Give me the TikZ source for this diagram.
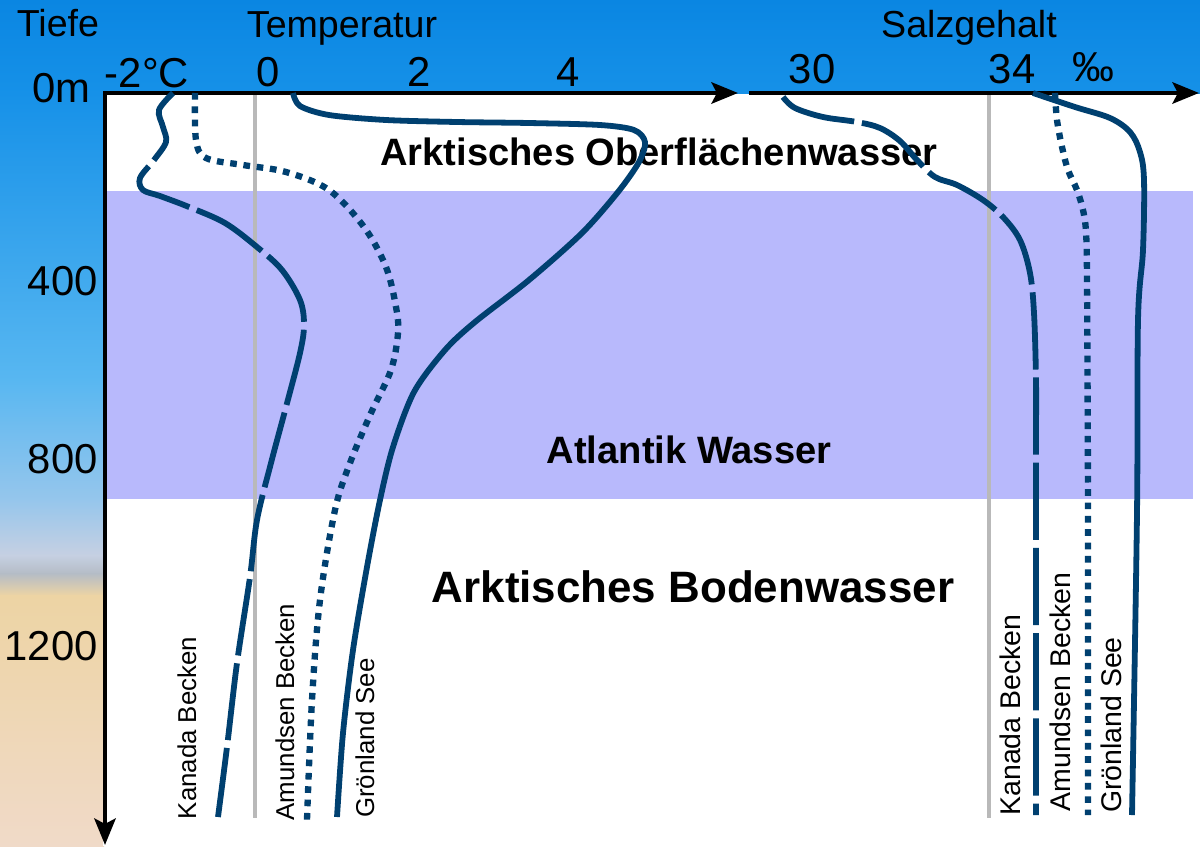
\documentclass[tikz,border=0pt]{standalone}
\usepackage{fontspec}
\setmainfont{Liberation Sans}
\usetikzlibrary{arrows.meta}
\definecolor{himmelA}{RGB}{10,134,226}
\definecolor{himmelB}{RGB}{22,145,232}
\definecolor{himmelC}{RGB}{88,183,241}
\definecolor{himmelD}{RGB}{150,198,236}
\definecolor{himmelE}{RGB}{198,208,226}
\definecolor{dunst}{RGB}{180,188,198}
\definecolor{sandA}{RGB}{237,212,164}
\definecolor{sandB}{RGB}{240,218,200}
\definecolor{atlantik}{RGB}{184,185,252}
\definecolor{profil}{RGB}{0,64,112}
\definecolor{nullgrau}{RGB}{185,185,185}
\begin{document}
\begin{tikzpicture}[x=0.02cm, y=-0.02cm,
    profile/.style={line width=3.3pt, color=profil},
    kanada/.style={profile, dash pattern=on 44pt off 4.5pt},
    amundsen/.style={profile, line width=3.6pt, dash pattern=on 3.8pt off 3.8pt},
    groenland/.style={profile},
    achse/.style={line width=2.8pt, -{Stealth[length=15pt, width=12pt, inset=3pt]}},
    nullline/.style={line width=2.3pt, color=nullgrau},
    ticklabel/.style={font=\fontsize{23.8pt}{26pt}\selectfont, anchor=base, inner sep=0pt},
    heading/.style={font=\fontsize{21.4pt}{24pt}\selectfont, anchor=base, inner sep=0pt},
    zone/.style={font=\bfseries\fontsize{21.7pt}{24pt}\selectfont, anchor=base, inner sep=0pt},
    basin/.style={font=\fontsize{14.7pt}{16pt}\selectfont, rotate=90, inner sep=0pt},
    bigbasin/.style={basin, font=\fontsize{16.2pt}{18pt}\selectfont},
    ]
    \useasboundingbox (0,0) rectangle (1200,846);
    % background: sky band and depth strip
    \shade[top color=himmelA, bottom color=himmelB] (0,0) rectangle (1200,94);
    \shade[top color=himmelB, bottom color=himmelC] (0,93) rectangle (104,381);
    \shade[top color=himmelC, bottom color=himmelD] (0,380) rectangle (104,501);
    \shade[top color=himmelD, bottom color=himmelE] (0,500) rectangle (104,556);
    \shade[top color=himmelE, bottom color=dunst] (0,555) rectangle (104,574);
    \shade[top color=dunst, bottom color=sandA] (0,573) rectangle (104,596);
    \shade[top color=sandA, bottom color=sandB] (0,595) rectangle (104,846);
    \fill[white] (103,94) rectangle (1200,846);
    \fill[atlantik] (105,191) rectangle (1193,499);
    \draw[nullline] (255,94) -- (255,818);
    \draw[nullline] (989,94) -- (989,818);

    % axes
    \draw[achse] (103,93) -- (738,93);
    \draw[achse] (749,93) -- (1199,93);
    \draw[achse] (105,91) -- (105,845);

    \node[heading] (tiefe) at (58,36) {Tiefe};
    \node[heading] (temperatur) at (342,37) {Temperatur};
    \node[heading] (salz) at (969,37) {Salzgehalt};
    \node[ticklabel, anchor=base east] (d0) at (91,102) {0m};
    \node[ticklabel, anchor=base east] (d400) at (98,295) {400};
    \node[ticklabel, anchor=base east] (d800) at (98,473) {800};
    \node[ticklabel, anchor=base east] (d1200) at (98,660) {1200};
    \node[ticklabel] (tm2) at (147,87) {-2°C};
    \node[ticklabel] (t0) at (268,86) {0};
    \node[ticklabel] (t2) at (419,86) {2};
    \node[ticklabel] (t4) at (568,86) {4};
    \node[ticklabel] (s30) at (812,83) {30};
    \node[ticklabel] (s34) at (1012,83) {34};
    \node[ticklabel] (promille) at (1093,81) {‰};

    \node[zone] (oberflaeche) at (659,165) {Arktisches Oberflächenwasser};
    \node[zone] (atlantikw) at (689,463) {Atlantik Wasser};
    \node[zone, font=\bfseries\fontsize{25pt}{28pt}\selectfont] (boden) at (693,602) {Arktisches Bodenwasser};

    % temperature profiles
    \draw[kanada] plot[smooth, tension=0.55] coordinates {(173,93) (159,110) (163,127) (166,142) (154,160) (140,178) (143,190) (160,196) (189,207) (225,223) (257,247) (282,270) (300,300) (304,325) (300,353) (286,407) (271,463) (257,520) (250,577) (237,663) (227,747) (218,817)};
    \draw[amundsen] plot[smooth, tension=0.55] coordinates {(195,93) (196,140) (206,158) (243,165) (286,172) (329,190) (364,227) (386,267) (396,307) (398,333) (391,370) (371,413) (350,463) (335,510) (320,600) (312,700) (307,820)};
    \draw[groenland] plot[smooth, tension=0.5] coordinates {(293,93) (300,106) (329,115) (386,120) (457,122) (529,123) (600,125) (634,130) (645,142) (639,162) (618,192) (582,233) (529,280) (475,322) (445,350) (414,392) (393,447) (380,500) (367,567) (353,650) (343,733) (337,817)};

    % salinity profiles
    \draw[kanada] plot[smooth, tension=0.55] coordinates {(783,97) (795,108) (823,117) (857,122) (880,128) (900,141) (917,160) (935,177) (957,185) (983,200) (1003,217) (1020,240) (1030,273) (1034,313) (1036,380) (1036,447) (1036,600) (1036,815)};
    \draw[amundsen] plot[smooth, tension=0.55] coordinates {(1055,93) (1057,120) (1062,147) (1068,170) (1077,190) (1083,210) (1086,232) (1087,280) (1088,513) (1088,815)};
    \draw[groenland] plot[smooth, tension=0.55] coordinates {(1033,93) (1075,107) (1110,118) (1130,132) (1140,152) (1144,180) (1143,250) (1138,320) (1137,513) (1132,815)};

    \node[basin] (kanadaT) at (187,728) {Kanada Becken};
    \node[basin] (amundsenT) at (285,712) {Amundsen Becken};
    \node[basin] (groenlandT) at (365,738) {Grönland See};
    \node[bigbasin] (kanadaS) at (1010,715) {Kanada Becken};
    \node[bigbasin] (amundsenS) at (1060,692) {Amundsen Becken};
    \node[bigbasin] (groenlandS) at (1111,725) {Grönland See};
\end{tikzpicture}
\end{document}
